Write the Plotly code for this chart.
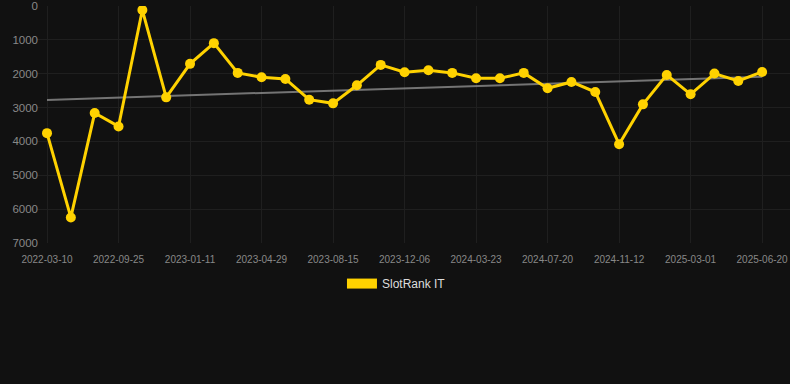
import numpy as np
import plotly.graph_objects as go

# Ranks (lower is better; axis reversed), one per sample
rank_values = [3755, 6245, 3162, 3557, 119, 2698, 1709, 1097, 1976, 2105,
               2154, 2767, 2875, 2342, 1739, 1957, 1897, 1976, 2134, 2134,
               1976, 2431, 2243, 2540, 4081, 2905, 2036, 2609, 1996, 2213, 1947]
# Visible date labels (every third sample)
tick_labels = ["2022-03-10", "2022-09-25", "2023-01-11", "2023-04-29",
               "2023-08-15", "2023-12-06", "2024-03-23", "2024-07-20",
               "2024-11-12", "2025-03-01", "2025-06-20"]
label_step = 3
y_ticks = [0, 1000, 2000, 3000, 4000, 5000, 6000, 7000]
series_name = "SlotRank IT"

x = np.arange(len(rank_values))
slope, intercept = np.polyfit(x, rank_values, 1)
trend = slope * x + intercept

GOLD = "#FFD200"
fig = go.Figure()
fig.add_trace(go.Scatter(
    x=x, y=trend, mode="lines",
    line=dict(color="rgba(150,150,150,0.75)", width=2),
    showlegend=False, hoverinfo="skip"))
fig.add_trace(go.Scatter(
    x=x, y=rank_values, mode="lines+markers",
    line=dict(color=GOLD, width=3),
    marker=dict(color=GOLD, size=10),
    showlegend=False))
# legend entry drawn as a filled bar-like swatch
fig.add_trace(go.Scatter(
    x=[None], y=[None], mode="lines",
    line=dict(color=GOLD, width=12),
    name=series_name, showlegend=True))

fig.update_layout(
    width=790, height=384,
    paper_bgcolor="#111111", plot_bgcolor="#111111",
    margin=dict(l=37, r=0, t=6, b=141),
    font=dict(family="Liberation Sans, Arial, sans-serif", color="#888888"),
    xaxis=dict(
        range=[-0.42, 31.17],
        tickmode="array",
        tickvals=list(x[::label_step]),
        ticktext=tick_labels,
        tickfont=dict(size=10, color="#888888"),
        showgrid=True, gridcolor="#1f1f1f", gridwidth=1,
        zeroline=False, showline=False, ticks="",
        ticklabelstandoff=9,
    ),
    yaxis=dict(
        range=[7000, 0],
        tickmode="array", tickvals=y_ticks,
        tickfont=dict(size=11.5, color="#888888"),
        showgrid=True, gridcolor="#1f1f1f", gridwidth=1,
        zeroline=False, showline=False, ticks="",
        ticklabelstandoff=-2,
    ),
    legend=dict(
        orientation="h", x=0.405, xanchor="left", y=-0.11, yanchor="top",
        font=dict(size=12, color="#dddddd"),
        bgcolor="rgba(0,0,0,0)",
    ),
    showlegend=True,
)

fig.write_html("out.html", config={"displayModeBar": False},
               post_script="document.body.style.margin='0px';")
